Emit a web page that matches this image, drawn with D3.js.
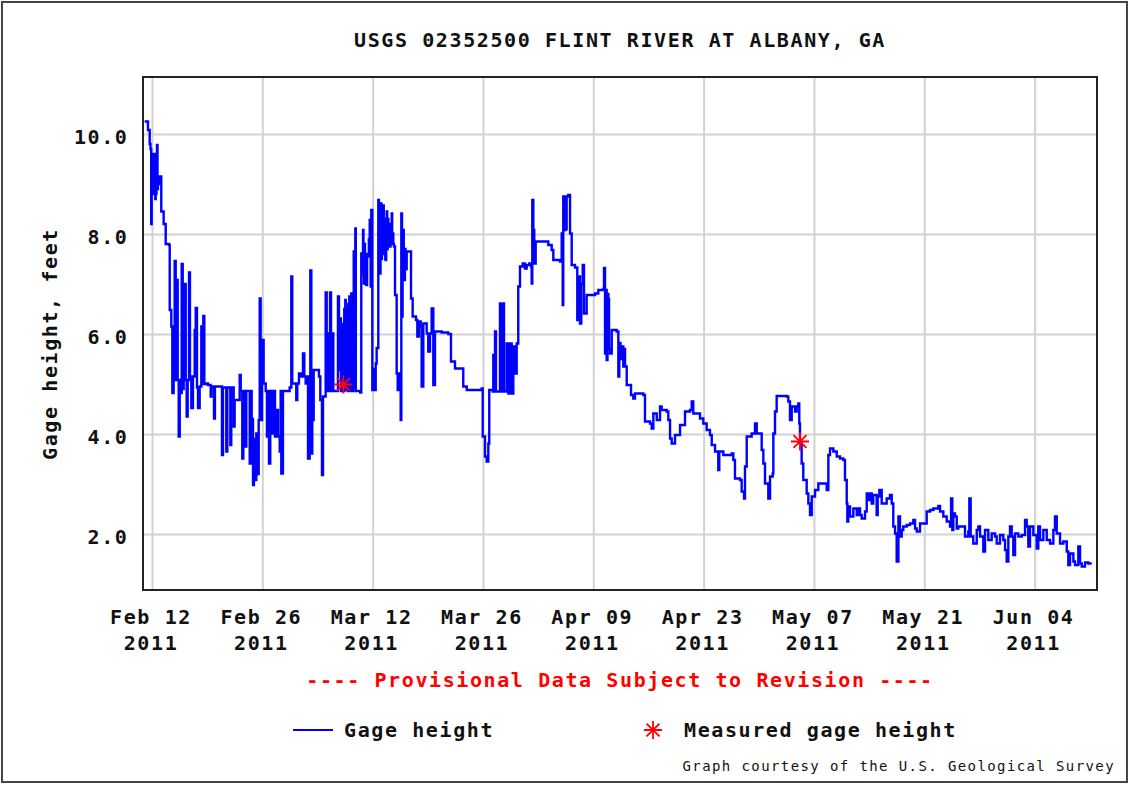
<!DOCTYPE html>
<html>
<head>
<meta charset="utf-8">
<script src="https://cdn.jsdelivr.net/npm/d3@7"></script>
<style>
  html, body { margin: 0; padding: 0; background: #fff; }
  svg { display: block; }
  text { font-family: "DejaVu Sans Mono", "Liberation Mono", monospace; }
</style>
</head>
<body>
<svg id="chart" width="1130" height="785"></svg>
<script>
// ---------------- DATA ----------------
const chartTitle = "USGS 02352500 FLINT RIVER AT ALBANY, GA";
const yAxisTitle = "Gage height, feet";
const provisionalNote = "---- Provisional Data Subject to Revision ----";
const legendLabels = ["Gage height", "Measured gage height"];
const creditNote = "Graph courtesy of the U.S. Geological Survey";

const baseDate = "2011-02-12";              // day offsets below are measured from this date
const xDomainDays = [-1.14, 119.92];         // visible time window (days from baseDate)
const yDomainFeet = [0.88, 11.14];
const tickDates = ["2011-02-12", "2011-02-26", "2011-03-12", "2011-03-26", "2011-04-09",
                   "2011-04-23", "2011-05-07", "2011-05-21", "2011-06-04"];
const yTickValues = [2, 4, 6, 8, 10];

// Gage height, [day offset from baseDate, feet]
const gageHeight = [
  [-0.93,10.25],[-0.51,10.08],[-0.29,9.8],[-0.19,9.7],[-0.10,8.2],[-0.04,9.6],[0.05,9.0],[0.13,9.2],[0.19,8.8],[0.25,8.9],
  [0.30,9.6],[0.34,9.5],[0.38,8.8],[0.42,8.7],[0.47,9.5],[0.51,9.4],[0.54,8.8],[0.57,8.9],[0.60,9.6],[0.63,9.78],[0.70,8.9],[0.76,9.0],[0.89,9.15],[1.18,8.45],
  [1.48,8.2],[1.74,7.8],[2.16,7.78],[2.25,6.48],[2.45,6.15],[2.58,4.82],[2.75,6.15],[2.88,7.46],
  [3.01,5.08],[3.08,7.08],[3.26,5.08],[3.39,3.95],[3.52,5.08],[3.68,4.82],[3.77,7.4],[3.90,4.9],
  [4.02,5.08],[4.15,7.0],[4.28,5.08],[4.40,4.35],[4.53,5.08],[4.70,7.23],[4.82,5.15],[4.99,4.52],
  [5.20,5.15],[5.42,6.08],[5.55,6.52],[5.71,4.93],[5.84,4.52],[6.05,4.95],[6.26,6.15],[6.38,5.0],
  [6.51,6.36],[6.64,5.0],[6.89,5.01],[7.11,4.98],[7.45,4.75],[7.55,4.95],[7.87,4.31],[7.99,4.95],
  [8.88,3.58],[9.01,4.93],[9.43,3.65],[9.56,4.93],[9.94,3.78],[10.06,4.93],[10.37,4.15],[10.49,4.68],
  [11.13,5.18],[11.26,4.86],[11.46,3.51],[11.59,4.86],[11.84,3.75],[11.97,4.86],[12.40,3.41],[12.53,4.86],
  [12.65,4.3],[12.82,2.98],[12.94,3.9],[13.03,3.08],[13.24,4.01],[13.36,3.2],[13.54,4.28],[13.67,6.71],
  [13.79,4.28],[13.96,5.88],[14.17,5.01],[14.43,4.86],[14.59,3.95],[14.76,4.86],[14.85,3.41],[15.01,4.86],
  [15.27,4.01],[15.44,4.86],[15.61,3.95],[15.77,4.48],[15.99,3.95],[16.21,3.65],[16.33,4.86],[16.41,3.21],
  [16.62,4.86],[17.47,4.93],[17.68,7.15],[17.80,5.01],[18.11,5.01],[18.31,4.68],[18.44,5.01],[18.65,5.21],
  [18.95,5.15],[19.16,5.61],[19.33,5.15],[19.50,5.01],[19.67,5.15],[19.80,3.51],[20.01,4.2],[20.09,7.27],
  [20.22,3.61],[20.34,4.28],[20.52,5.28],[21.19,5.15],[21.36,4.68],[21.57,3.18],[21.70,4.75],[22.04,6.83],
  [22.17,4.86],[22.34,6.01],[22.46,4.86],[22.59,6.83],[22.72,4.86],[22.88,6.01],[23.01,4.86],[23.60,6.75],
  [23.73,5.28],[23.86,6.31],[23.98,4.86],[24.15,5.45],[24.22,4.86],[24.28,6.2],[24.33,4.86],[24.40,6.5],
  [24.46,4.9],[24.53,6.68],[24.59,4.9],[24.66,6.3],[24.72,4.88],[24.78,6.5],[24.85,4.86],[24.91,6.6],
  [24.97,4.86],[25.04,6.75],[25.10,4.86],[25.16,6.6],[25.22,4.86],[25.29,6.81],[25.35,4.86],[25.42,6.7],
  [25.48,4.86],[25.54,6.8],[25.60,7.65],[25.66,4.95],[25.72,6.9],[25.80,8.11],[25.86,4.86],[25.93,4.86],
  [26.43,4.83],[26.56,7.61],[26.78,8.08],[26.84,7.2],[26.90,7.01],[26.96,7.8],[27.03,7.55],[27.10,7.0],[27.20,6.98],[27.30,7.6],[27.41,7.55],
  [27.52,7.9],[27.63,8.28],[27.75,6.95],[27.83,8.48],[27.96,4.88],[28.11,5.3],[28.26,4.88],[28.39,5.41],[28.51,5.72],
  [28.72,8.68],[28.80,7.6],[28.86,8.4],[28.93,7.21],[29.00,8.3],[29.06,8.61],[29.12,7.5],[29.18,8.5],
  [29.22,7.81],[29.28,8.4],[29.35,8.57],[29.41,7.6],[29.48,7.88],[29.54,8.3],[29.60,7.5],[29.66,7.48],
  [29.72,8.2],[29.78,8.45],[29.85,7.7],[29.92,8.3],[29.99,7.81],[30.06,8.2],[30.13,7.8],[30.20,7.75],
  [30.27,8.2],[30.35,7.8],[30.42,8.41],[30.48,7.9],[30.55,8.01],[30.62,7.8],[30.71,7.75],[30.84,6.78],[31.05,5.21],[31.18,4.88],
  [31.35,5.21],[31.56,4.28],[31.64,8.41],[31.73,6.35],[31.80,7.6],[31.89,8.08],[31.95,7.2],[32.02,7.08],[32.10,7.7],[32.18,7.3],[32.32,7.65],[32.74,7.65],
  [32.87,6.71],[33.08,6.35],[33.50,6.28],[33.67,5.95],[33.88,6.25],[34.10,6.15],[34.22,4.95],[34.43,6.21],
  [34.86,6.01],[35.06,5.65],[35.28,6.01],[35.49,6.51],[35.70,4.98],[35.91,6.05],[36.76,6.03],[37.60,6.0],
  [37.94,5.45],[38.45,5.31],[39.43,5.31],[39.50,4.95],[39.94,4.88],[41.84,4.91],[41.97,3.95],[42.26,3.55],
  [42.47,3.45],[42.68,3.81],[42.80,4.88],[43.24,4.85],[43.31,5.58],[43.44,4.85],[43.53,6.05],[43.65,4.85],
  [44.16,6.61],[44.29,4.85],[44.50,6.61],[44.67,4.85],[45.01,5.81],[45.22,4.81],[45.43,5.81],[45.65,4.81],
  [45.85,5.75],[46.06,5.21],[46.28,5.81],[46.48,6.95],[46.70,7.35],[47.04,7.41],[47.33,7.31],[47.55,7.38],
  [47.88,7.41],[48.10,7.35],[48.18,7.01],[48.26,8.68],[48.39,8.08],[48.51,7.41],[48.69,7.85],[49.87,7.85],
  [50.29,7.78],[50.72,7.68],[50.93,7.48],[51.78,7.45],[51.99,8.01],[52.12,6.58],[52.19,8.75],[52.41,8.08],
  [52.50,8.7],[52.56,8.1],[52.62,8.75],[52.83,8.78],[53.05,8.01],[53.26,7.38],[53.68,7.33],[53.97,6.28],[54.10,7.15],[54.31,6.21],
  [54.48,7.0],[54.66,7.38],[54.82,6.41],[55.16,6.78],[56.22,6.81],[56.64,6.88],[57.27,6.9],[57.36,7.32],
  [57.49,5.61],[57.61,6.88],[57.70,5.48],[57.80,6.8],[57.91,6.7],[58.00,5.7],[58.12,5.61],[58.34,6.08],[58.97,6.05],[59.18,5.15],
  [59.30,5.82],[59.45,5.5],[59.61,5.75],[59.81,5.35],[59.94,5.7],[60.03,5.35],[60.24,4.98],[60.66,4.98],[60.79,4.78],
  [61.08,4.71],[61.29,4.81],[62.35,4.78],[62.56,4.25],[63.20,4.21],[63.41,4.11],[63.62,4.41],[64.05,4.28],
  [64.47,4.55],[64.68,4.48],[65.31,4.45],[65.52,4.28],[65.74,3.91],[65.95,3.81],[66.37,3.98],[67.01,4.18],
  [67.64,4.45],[68.27,4.48],[68.49,4.65],[68.69,4.41],[69.54,4.31],[69.96,4.21],[70.39,4.08],[70.81,3.98],
  [71.03,3.78],[71.45,3.65],[71.86,3.28],[71.99,3.65],[72.50,3.58],[73.56,3.61],[73.77,3.48],[73.98,3.11],
  [74.62,3.08],[74.83,2.85],[75.13,2.71],[75.25,3.35],[75.47,3.95],[76.10,4.01],[76.52,4.21],[76.74,4.01],
  [77.16,4.01],[77.37,3.68],[77.58,3.41],[77.79,3.01],[78.21,2.71],[78.43,3.15],[78.77,3.21],[78.85,4.01],
  [79.06,4.45],[79.27,4.76],[80.54,4.75],[80.75,4.65],[80.96,4.28],[81.18,4.55],[81.60,4.45],[81.81,4.55],
  [82.02,4.61],[82.14,4.21],[82.23,3.81],[82.44,3.41],[82.65,3.08],[83.08,2.81],[83.29,2.61],[83.50,2.38],
  [83.72,2.75],[84.14,2.88],[84.56,3.01],[85.19,3.01],[85.62,2.88],[85.83,3.58],[86.04,3.71],[86.46,3.65],
  [86.89,3.55],[87.31,3.51],[87.73,3.48],[87.94,3.08],[88.16,2.61],[88.24,2.25],[88.36,2.55],[88.58,2.35],
  [89.00,2.51],[89.43,2.38],[89.64,2.51],[89.85,2.38],[90.06,2.31],[90.48,2.45],[90.70,2.81],[90.90,2.68],
  [91.12,2.81],[91.33,2.61],[91.53,2.78],[91.96,2.38],[92.09,2.75],[92.30,2.88],[92.60,2.61],[93.23,2.71],
  [93.65,2.78],[93.87,2.61],[94.07,2.15],[94.29,2.01],[94.50,1.45],[94.72,2.35],[94.92,1.95],[95.14,2.08],
  [95.34,2.15],[95.77,2.18],[96.19,2.21],[96.61,2.28],[96.83,2.11],[97.04,2.05],[97.46,2.21],[97.88,2.21],
  [98.31,2.45],[98.73,2.48],[99.15,2.51],[99.78,2.56],[100.00,2.45],[100.42,2.35],[100.85,2.25],[101.27,2.15],
  [101.40,2.71],[101.56,2.08],[101.69,2.41],[101.90,2.35],[102.12,2.11],[102.32,2.15],[102.95,2.15],[103.17,1.95],
  [103.39,1.95],[103.59,2.05],[103.72,2.71],[103.89,1.95],[104.22,1.81],[104.66,2.08],[104.86,2.15],[105.08,1.95],
  [105.49,1.65],[105.71,2.08],[106.13,1.88],[106.56,2.01],[106.98,1.95],[107.19,1.81],[107.61,1.98],[108.03,1.88],
  [108.25,1.68],[108.46,1.45],[108.67,1.95],[108.88,2.15],[109.10,1.95],[109.30,1.58],[109.52,2.01],[109.94,1.95],
  [110.37,1.98],[110.79,2.28],[111.00,2.15],[111.20,1.75],[111.42,2.15],[111.84,1.98],[112.27,1.71],[112.47,2.15],
  [112.69,1.88],[113.11,2.08],[113.54,1.88],[113.96,1.81],[114.38,2.08],[114.59,2.35],[114.81,2.01],[115.23,1.81],
  [115.65,1.85],[116.08,1.65],[116.28,1.38],[116.50,1.61],[116.92,1.45],[117.13,1.38],[117.55,1.75],[117.77,1.41],
  [117.98,1.35],[118.40,1.43],[118.82,1.41],[119.25,1.41]
];

// Measured gage height, [day offset from baseDate, feet]
const measuredHeight = [[24.28, 4.99], [82.23, 3.85]];

// ---------------- DRAWING ----------------
const W = 1130, H = 785;
const plot = { left: 143, top: 77, right: 1097, bottom: 590 };
const dayMs = 864e5;
const base = Date.parse(baseDate + "T00:00:00Z");
const toDate = d => new Date(base + d * dayMs);

const svg = d3.select("#chart");
const x = d3.scaleUtc().domain(xDomainDays.map(toDate)).range([plot.left, plot.right]);
const y = d3.scaleLinear().domain(yDomainFeet).range([plot.bottom, plot.top]);
const ticks = tickDates.map(s => new Date(s + "T00:00:00Z"));

const fontBig = 20, lsBig = 1.6;

// outer frame
svg.append("rect").attr("x", 2).attr("y", 2).attr("width", W - 5).attr("height", H - 5)
  .attr("fill", "#fff").attr("stroke", "#444").attr("stroke-width", 2);

// title
svg.append("text").attr("x", (plot.left + plot.right) / 2).attr("y", 47)
  .attr("text-anchor", "middle").attr("font-size", fontBig).attr("font-weight", "bold")
  .attr("letter-spacing", lsBig).attr("fill", "#111").text(chartTitle);

// gridlines
const gx = svg.append("g").attr("transform", `translate(0,${plot.bottom})`)
  .call(d3.axisBottom(x).tickValues(ticks).tickSize(-(plot.bottom - plot.top)).tickFormat(""));
gx.select(".domain").remove();
gx.selectAll("line").attr("stroke", "#d2d2d2").attr("stroke-width", 2);

const gy = svg.append("g").attr("transform", `translate(${plot.left},0)`)
  .call(d3.axisLeft(y).tickValues(yTickValues).tickSize(-(plot.right - plot.left)).tickFormat(""));
gy.select(".domain").remove();
gy.selectAll("line").attr("stroke", "#d2d2d2").attr("stroke-width", 2);

// x labels
const fmtMD = d3.utcFormat("%b %d"), fmtY = d3.utcFormat("%Y");
const lx = svg.append("g").attr("transform", `translate(0,${plot.bottom})`)
  .call(d3.axisBottom(x).tickValues(ticks).tickSize(0).tickFormat(""));
lx.select(".domain").remove();
lx.selectAll(".tick text").each(function(d) {
  const t = d3.select(this).attr("dy", null).attr("y", null)
    .attr("font-size", fontBig).attr("font-weight", "bold").attr("letter-spacing", lsBig)
    .attr("fill", "#111").attr("font-family", "DejaVu Sans Mono");
  t.append("tspan").attr("x", -1.5).attr("y", 34).text(fmtMD(d));
  t.append("tspan").attr("x", -1.5).attr("y", 60).text(fmtY(d));
});

// y labels
const ly = svg.append("g").attr("transform", `translate(${plot.left},0)`)
  .call(d3.axisLeft(y).tickValues(yTickValues).tickSize(0).tickPadding(14.5).tickFormat(d3.format(".1f")));
ly.select(".domain").remove();
ly.selectAll(".tick text").attr("dy", "0.45em").attr("font-size", fontBig).attr("font-weight", "bold")
  .attr("letter-spacing", lsBig).attr("fill", "#111").attr("font-family", "DejaVu Sans Mono");

// y axis title
svg.append("text").attr("transform", `translate(57,${344}) rotate(-90)`)
  .attr("text-anchor", "middle").attr("font-size", fontBig).attr("font-weight", "bold")
  .attr("letter-spacing", lsBig).attr("fill", "#111").text(yAxisTitle);

// clip
svg.append("clipPath").attr("id", "clip").append("rect")
  .attr("x", plot.left).attr("y", plot.top)
  .attr("width", plot.right - plot.left).attr("height", plot.bottom - plot.top);

// gage height line
const line = d3.line().curve(d3.curveStepAfter)
  .x(d => x(toDate(d[0]))).y(d => y(d[1]));
svg.append("path").datum(gageHeight).attr("clip-path", "url(#clip)")
  .attr("d", line).attr("fill", "none").attr("stroke", "#0000ff").attr("stroke-width", 2.4)
  .attr("stroke-linejoin", "miter");

// asterisk shape
function asterisk(r) {
  const p = d3.path(), k = r * 0.72;
  p.moveTo(-r, 0); p.lineTo(r, 0);
  p.moveTo(0, -r); p.lineTo(0, r);
  p.moveTo(-k, -k); p.lineTo(k, k);
  p.moveTo(-k, k); p.lineTo(k, -k);
  return p.toString();
}
svg.selectAll(".meas").data(measuredHeight).join("path").attr("class", "meas")
  .attr("transform", d => `translate(${x(toDate(d[0]))},${y(d[1])})`)
  .attr("d", asterisk(9)).attr("stroke", "#ff0000").attr("stroke-width", 1.8).attr("fill", "none");

// plot frame
svg.append("rect").attr("x", plot.left).attr("y", plot.top)
  .attr("width", plot.right - plot.left).attr("height", plot.bottom - plot.top)
  .attr("fill", "none").attr("stroke", "#222").attr("stroke-width", 2);

// provisional note
svg.append("text").attr("x", 620).attr("y", 687).attr("text-anchor", "middle")
  .attr("font-size", fontBig).attr("font-weight", "bold").attr("letter-spacing", lsBig)
  .attr("fill", "#ff0000").text(provisionalNote);

// legend
svg.append("line").attr("x1", 293).attr("x2", 333).attr("y1", 730).attr("y2", 730)
  .attr("stroke", "#0000ff").attr("stroke-width", 2);
svg.append("text").attr("x", 344).attr("y", 737).attr("font-size", fontBig).attr("font-weight", "bold")
  .attr("letter-spacing", lsBig).attr("fill", "#111").text(legendLabels[0]);
svg.append("path").attr("transform", "translate(653,730)").attr("d", asterisk(9))
  .attr("stroke", "#ff0000").attr("stroke-width", 1.8).attr("fill", "none");
svg.append("text").attr("x", 684).attr("y", 737).attr("font-size", fontBig).attr("font-weight", "bold")
  .attr("letter-spacing", lsBig).attr("fill", "#111").text(legendLabels[1]);

// credit
svg.append("text").attr("x", 1115).attr("y", 771).attr("text-anchor", "end")
  .attr("font-size", 14).attr("letter-spacing", 1.4).attr("fill", "#111").text(creditNote);
</script>
</body>
</html>
